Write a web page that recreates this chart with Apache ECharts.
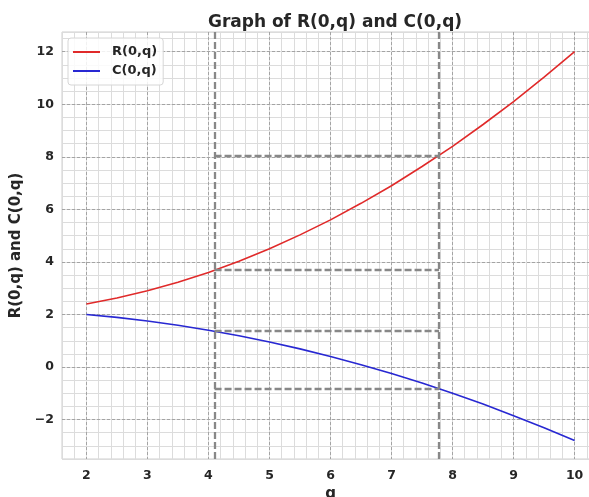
<!DOCTYPE html>
<html>
<head>
<meta charset="utf-8">
<script src="https://cdn.jsdelivr.net/npm/echarts@6/dist/echarts.min.js"></script>
<style>
html,body{margin:0;padding:0;background:#fff;}
#chart{width:589px;height:497px;}
</style>
</head>
<body>
<div id="chart"></div>
<script>
const qValues = [2, 2.5, 3, 3.5, 4, 4.5, 5, 5.5, 6, 6.5, 7, 7.5, 8, 8.5, 9, 9.5, 10];
const rValues = [2.40, 2.63, 2.90, 3.23, 3.60, 4.03, 4.50, 5.03, 5.60, 6.23, 6.90, 7.63, 8.40, 9.23, 10.10, 11.03, 12.00];
const cValues = [2.00, 1.89, 1.75, 1.59, 1.40, 1.19, 0.95, 0.69, 0.40, 0.09, -0.25, -0.61, -1.00, -1.41, -1.85, -2.31, -2.80];
const qMarks = [4.1, 7.78];
const rAtMarks = [3.69, 8.05];
const cAtMarks = [1.37, -0.82];
const seriesNames = ['R(0,q)', 'C(0,q)'];
const seriesColors = ['#e02a2a', '#2828d2'];
const titleText = 'Graph of R(0,q) and C(0,q)';
const xName = 'q';
const yName = 'R(0,q) and C(0,q)';

const FONT = 'DejaVu Sans';
const TXT = '#262626';
const T = 'rgba(0,0,0,0)';
const MAJOR = '#a4a4a4';
const MINOR = '#dcdcdc';

function pairs(xs, ys) { return xs.map((x, i) => [x, ys[i]]); }

const guideData = [];
qMarks.forEach(q => guideData.push({ xAxis: q }));
[rAtMarks, cAtMarks].forEach(levels => {
  levels.forEach(v => guideData.push([{ coord: [qMarks[0], v] }, { coord: [qMarks[1], v] }]));
});

const chart = echarts.init(document.getElementById('chart'), null, { renderer: 'canvas' });
chart.setOption({
  animation: false,
  backgroundColor: '#ffffff',
  textStyle: { fontFamily: FONT },
  title: {
    text: titleText,
    left: 330,
    textAlign: 'center',
    top: 9,
    textStyle: { fontFamily: FONT, fontSize: 17, fontWeight: 'bold', color: TXT }
  },
  legend: {
    data: seriesNames.map(n => ({ name: n, icon: 'rect' })),
    orient: 'vertical',
    left: 68,
    top: 38,
    padding: [7, 6, 7, 5],
    itemWidth: 27,
    itemHeight: 2,
    itemGap: 5,
    backgroundColor: 'rgba(255,255,255,0.85)',
    borderColor: '#d6d6d6',
    borderWidth: 1,
    borderRadius: 3,
    textStyle: { fontFamily: FONT, fontSize: 13, fontWeight: 'bold', color: TXT, padding: [0, 0, 0, 7], lineHeight: 14 }
  },
  grid: {
    left: 62, top: 32, width: 537, height: 427,
    outerBoundsMode: 'none', containLabel: false,
    show: true, backgroundColor: '#ffffff', borderColor: '#cfcfcf', borderWidth: 1
  },
  xAxis: [
    {
      type: 'value', min: 1.6, max: 10.4, interval: 0.2, z: 2,
      name: xName, nameLocation: 'middle', nameGap: 23,
      nameTextStyle: { fontFamily: FONT, fontSize: 15, fontWeight: 'bold', color: TXT },
      axisLine: { show: false }, axisTick: { show: false },
      axisLabel: {
        margin: 10, fontFamily: FONT, fontSize: 12.5, fontWeight: 'bold', color: TXT,
        formatter: v => Math.abs(v - Math.round(v)) < 1e-6 ? String(Math.round(v)) : ''
      },
      splitLine: { show: true, lineStyle: { color: [T, T, MAJOR, T, T], width: 1, type: [3, 2] } }
    },
    {
      type: 'value', min: 1.6, max: 10.4, interval: 0.2, z: 1, position: 'bottom',
      axisLine: { show: false }, axisTick: { show: false }, axisLabel: { show: false },
      splitLine: { show: true, lineStyle: { color: MINOR, width: 1, type: 'solid' } }
    }
  ],
  yAxis: [
    {
      type: 'value', min: -3.5, max: 12.75, interval: 0.5, z: 2,
      name: yName, nameLocation: 'middle', nameGap: 34,
      nameTextStyle: { fontFamily: FONT, fontSize: 15, fontWeight: 'bold', color: TXT },
      axisLine: { show: false }, axisTick: { show: false },
      axisLabel: {
        margin: 8, fontFamily: FONT, fontSize: 12.5, fontWeight: 'bold', color: TXT,
        formatter: v => {
          const r = Math.round(v / 2) * 2;
          if (Math.abs(v - r) > 1e-6) return '';
          return r < 0 ? '\u2212' + Math.abs(r) : String(r);
        }
      },
      splitLine: { show: true, lineStyle: { color: [T, T, T, MAJOR], width: 1, type: [3, 2] } }
    },
    {
      type: 'value', min: -3.5, max: 12.75, interval: 0.5, z: 1, position: 'left',
      axisLine: { show: false }, axisTick: { show: false }, axisLabel: { show: false },
      splitLine: { show: true, lineStyle: { color: MINOR, width: 1, type: 'solid' } }
    }
  ],
  series: [
    {
      name: 'guides', type: 'line', data: [], xAxisIndex: 0, yAxisIndex: 0, z: 3,
      markLine: {
        silent: true, symbol: ['none', 'none'], label: { show: false },
        lineStyle: { color: '#888888', width: 2.3, type: [7, 3] },
        data: guideData
      }
    },
    {
      name: seriesNames[0], type: 'line', data: pairs(qValues, rValues), z: 4,
      symbol: 'none', lineStyle: { color: seriesColors[0], width: 1.6 }, itemStyle: { color: seriesColors[0] }
    },
    {
      name: seriesNames[1], type: 'line', data: pairs(qValues, cValues), z: 4,
      symbol: 'none', lineStyle: { color: seriesColors[1], width: 1.6 }, itemStyle: { color: seriesColors[1] }
    }
  ]
});
</script>
</body>
</html>
